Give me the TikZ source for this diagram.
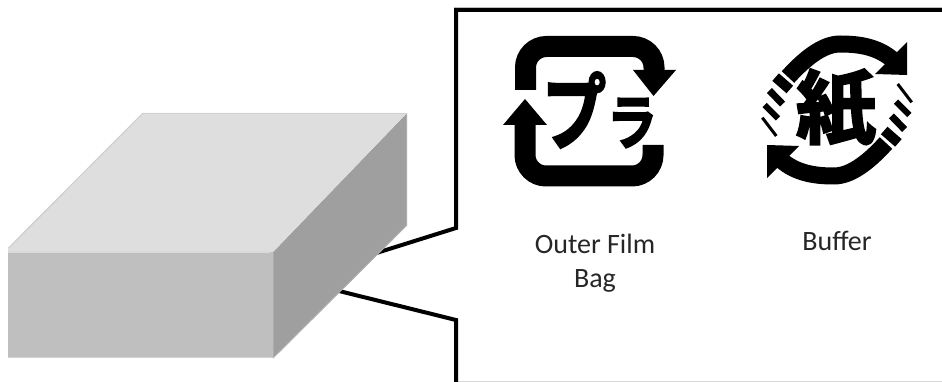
\documentclass[tikz,border=0pt]{standalone}
\usepackage{graphicx}
\usepackage{fontspec}
\setmainfont{Carlito}
\newfontfamily\cjk[FakeBold=3]{Noto Sans CJK JP Bold}
\tikzset{
  frameline/.style={line width=4pt,black},
  iconline/.style={line width=21pt,black,rounded corners=21pt},
  ringline/.style={line width=17pt,black},
  iconglyph/.style={inner sep=0pt,black},
  caption/.style={inner sep=0pt,align=center,font=\fontsize{28}{34}\selectfont,text=black!85},
}
\begin{document}
\begin{tikzpicture}[x=1pt,y=-1pt]
\useasboundingbox (0,0) rectangle (942,382);
% call-out frame
\coordinate (frametopright) at (942,10);
\coordinate (frametopleft) at (456,10);
\coordinate (frameupper) at (456,228);
\coordinate (framelower) at (456,320);
\coordinate (framebottom) at (456,382);
\coordinate (boxupper) at (370,255);
\coordinate (boxlower) at (335,290);
\draw[black!15,line width=1pt] (458,381) -- (942,381);
\draw[black!15,line width=1pt] (454,7.5) -- (942,7.5);
\draw[frameline,line join=miter] (frametopright) -- (frametopleft) -- (frameupper) -- (boxupper);
\draw[frameline,line join=miter] (boxlower) -- (framelower) -- (framebottom);
% package
\fill[gray!75] (407,113) -- (407,225) -- (273,358) -- (273,252) -- cycle;
\fill[black!25!white] (8,252) rectangle (273,358);
\fill[black!13!white] (8,248) -- (143,113) -- (407,113) -- (273,252) -- (8,252) -- cycle;
\draw[black!18,line width=1pt] (143,113.5) -- (407,113.5);
\draw[black!20,line width=1pt] (8.5,248) -- (143,113);
\draw[black!15,line width=1.5pt] (8,252) -- (270,252);
\draw[black!18,line width=1pt] (8,357.5) -- (273,357.5);
\draw[black!32,line width=1.5pt] (273.5,253) -- (273.5,358);
\draw[black!32,line width=1pt] (273,358) -- (407,225);
\draw[black!32,line width=1pt] (406.5,114) -- (406.5,225);
% plastic mark
\draw[iconline] (525.5,90) -- (525.5,46.5) -- (654,46.5) -- (654,72);
\fill (633,70) -- (676,70) -- (653.5,96) -- cycle;
\draw[iconline] (525,124) -- (525,176) -- (653,176) -- (653,145);
\fill (525,99) -- (547,125) -- (503,125) -- cycle;
\node[iconglyph,font=\cjk\fontsize{64}{64}\selectfont] (pmark) at (574,110) {\scalebox{1}[1.3]{プ}};
\node[iconglyph,font=\cjk\fontsize{50}{50}\selectfont] (ramark) at (632,123) {\scalebox{1}[1.2]{ラ}};
% paper mark
\foreach \angle in {0,180} {
  \begin{scope}[rotate around={\angle:(837,110)}]
    \draw[ringline] (788,77) .. controls (808,55) and (825,44) .. (840,44) .. controls (860,44) and (878,47) .. (893,60);
    \fill (907,75) -- (907,42) -- (875,74) -- cycle;
    \draw[line width=10pt] (775.6,77.1) -- (789.8,89.5);
    \draw[line width=7pt] (769.4,90.5) -- (782.6,104.1);
    \draw[line width=6pt] (764.7,105) -- (778,118.4);
    \draw[line width=3pt] (762.3,117.7) -- (776.3,136);
  \end{scope}
}
\node[iconglyph,font=\cjk\fontsize{80}{80}\selectfont] (kmark) at (836,108) {紙};
% captions
\node[caption] (filmlabel) at (595,263) {Outer Film\\Bag};
\node[caption,anchor=base] (bufferlabel) at (837,251) {Buffer};
\end{tikzpicture}
\end{document}
